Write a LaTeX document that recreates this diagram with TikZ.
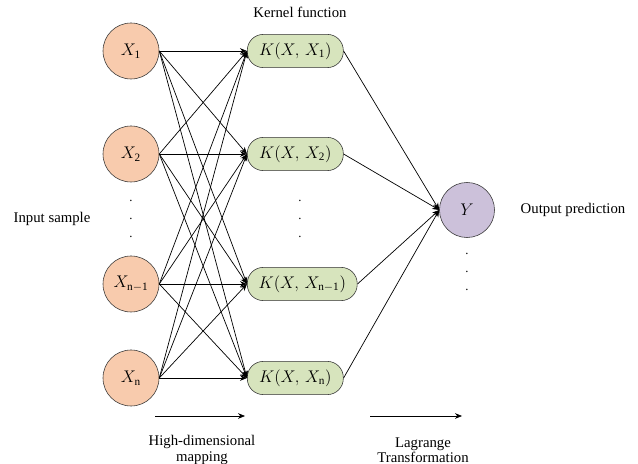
\documentclass[tikz,border=0pt]{standalone}
\usepackage{fontspec}
\setmainfont{Liberation Serif}
\usetikzlibrary{arrows.meta}
\definecolor{eingabe}{HTML}{F8CBAD}
\definecolor{kern}{HTML}{D7E4BD}
\definecolor{ausgabe}{HTML}{CCC1DA}
\begin{document}
\begin{tikzpicture}[
        x=0.025cm, y=-0.025cm,
        font=\fontsize{10.5}{12.5}\selectfont,
        eingang/.style={
            circle,
            draw=black!80,
            fill=eingabe,
            minimum size=1.4cm,
            inner sep=0pt,
            font=\large
        },
        kernbox/.style={
            draw=black!80,
            fill=kern,
            rounded corners=0.4cm,
            minimum height=0.83cm,
            minimum width=2.4cm,
            inner xsep=8pt,
            anchor=west,
            font=\large
        },
        ausgang/.style={
            circle,
            draw=black!80,
            fill=ausgabe,
            minimum size=1.375cm,
            inner sep=0pt,
            font=\large
        },
        pfeil/.style={-{Stealth[length=5pt,width=4pt]}, line width=0.5pt},
        punkte/.style={align=center, inner sep=0pt, font=\small},
        unten/.style={align=center, font=\fontsize{10.5}{11}\selectfont}
    ]
    \useasboundingbox (0,0) rectangle (638,464);
    % Eingaben
    \node[eingang] (x1) at (131,51) {$X_{\mathrm{1}}$};
    \node[eingang] (x2) at (131,154) {$X_{\mathrm{2}}$};
    \node[eingang] (xn1) at (131,284) {$X_{\mathrm{n-1}}$};
    \node[eingang] (xn) at (131,378) {$X_{\mathrm{n}}$};
    \node[punkte] (pin) at (131,219) {.\\[2pt].\\[2pt].};
    % Kernfunktionen
    \node[kernbox] (k1) at (247,51) {$K(X,\,X_{\mathrm{1}})$};
    \node[kernbox] (k2) at (247,154) {$K(X,\,X_{\mathrm{2}})$};
    \node[kernbox] (kn1) at (247,284) {$K(X,\,X_{\mathrm{n-1}})$};
    \node[kernbox] (kn) at (247,378) {$K(X,\,X_{\mathrm{n}})$};
    \node[punkte] (pk) at (300,219) {.\\[2pt].\\[2pt].};
    % Ausgabe
    \node[ausgang] (y) at (467,210) {$Y$};
    \node[punkte] (py) at (467,272) {.\\[2pt].\\[2pt].};
    % Beschriftungen
    \node (kf) at (300,12) {Kernel function};
    \node (is) at (52,219) {Input sample};
    \node (op) at (573,210) {Output prediction};
    % Verbindungen Eingabe -> Kern
    \draw[pfeil] (x1.east) -- (k1.west);
    \draw[pfeil] (x1.east) -- (k2.west);
    \draw[pfeil] (x1.east) -- (kn1.west);
    \draw[pfeil] (x1.east) -- (kn.west);
    \draw[pfeil] (x2.east) -- (k1.west);
    \draw[pfeil] (x2.east) -- (k2.west);
    \draw[pfeil] (x2.east) -- (kn1.west);
    \draw[pfeil] (x2.east) -- (kn.west);
    \draw[pfeil] (xn1.east) -- (k1.west);
    \draw[pfeil] (xn1.east) -- (k2.west);
    \draw[pfeil] (xn1.east) -- (kn1.west);
    \draw[pfeil] (xn1.east) -- (kn.west);
    \draw[pfeil] (xn.east) -- (k1.west);
    \draw[pfeil] (xn.east) -- (k2.west);
    \draw[pfeil] (xn.east) -- (kn1.west);
    \draw[pfeil] (xn.east) -- (kn.west);
    % Verbindungen Kern -> Ausgabe
    \draw[pfeil] (k1.east) -- (y.west);
    \draw[pfeil] (k2.east) -- (y.west);
    \draw[pfeil] (kn1.east) -- (y.west);
    \draw[pfeil] (kn.east) -- (y.west);
    % Pfeile unten
    \coordinate (a1) at (155,416);
    \coordinate (a2) at (245,416);
    \coordinate (b1) at (370,416);
    \coordinate (b2) at (462,416);
    \draw[pfeil] (a1) -- (a2);
    \draw[pfeil] (b1) -- (b2);
    \node[unten] (hd) at (202,450) {High-dimensional\\mapping};
    \node[unten] (lt) at (423,450) {Lagrange\\Transformation};
\end{tikzpicture}
\end{document}
